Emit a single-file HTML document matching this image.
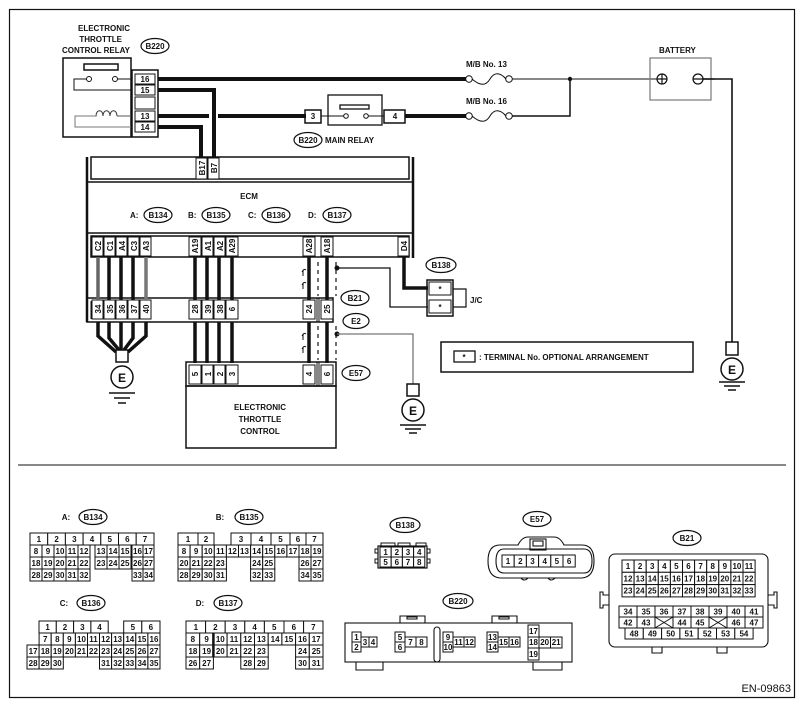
<!DOCTYPE html>
<html><head><meta charset="utf-8"><style>
html,body{margin:0;padding:0;background:#fff}
svg{display:block}
text{font-family:"Liberation Sans",Arial,sans-serif;font-weight:bold;fill:#111}
.l{font-size:8px}
.p{font-size:8px;text-anchor:middle}
.c{fill:#fff;stroke:#111;stroke-width:1}
</style></head><body>
<svg width="804" height="705" viewBox="0 0 804 705" xmlns="http://www.w3.org/2000/svg">
<rect x="9.5" y="9.5" width="785" height="688" fill="none" stroke="#111" stroke-width="1.2"/>
<line x1="18" y1="465" x2="786" y2="465" stroke="#111" stroke-width="1"/>

<!-- relay title -->
<text class="l" x="130" y="31" text-anchor="end">ELECTRONIC</text>
<text class="l" x="122" y="42" text-anchor="end">THROTTLE</text>
<text class="l" x="130" y="53" text-anchor="end">CONTROL RELAY</text>
<ellipse cx="155" cy="46" rx="14" ry="7.5" fill="#fff" stroke="#111" stroke-width="1.2"/>
<text class="p" x="155" y="49">B220</text>

<!-- relay box -->
<rect x="63" y="58" width="68" height="79" fill="none" stroke="#111" stroke-width="1.5"/>
<rect x="84" y="64" width="34" height="6" fill="none" stroke="#111" stroke-width="1.5"/>
<polyline points="87,79 74,79 74,90 131,90" fill="none" stroke="#111" stroke-width="1"/>
<line x1="117" y1="79" x2="131" y2="79" stroke="#111" stroke-width="1"/>
<circle cx="89" cy="79" r="2.5" fill="#fff" stroke="#111"/>
<circle cx="115" cy="79" r="2.5" fill="#fff" stroke="#111"/>
<polyline points="131,116 117,116 " fill="none" stroke="#555" stroke-width="1"/>
<path d="M117,116 C117,109 110,109 110,116 C110,109 103,109 103,116 C103,109 96,109 96,116 L91,116 M91,116" fill="none" stroke="#333" stroke-width="1"/>
<polyline points="96,116 75,116 75,127 131,127" fill="none" stroke="#777" stroke-width="1"/>
<rect x="132" y="70" width="26" height="67" fill="none" stroke="#111" stroke-width="1.5"/>
<rect x="135" y="74" width="20" height="10" class="c"/><text class="p" x="145" y="82">16</text>
<rect x="135" y="85" width="20" height="10" class="c"/><text class="p" x="145" y="93">15</text>
<rect x="135" y="97" width="20" height="12" class="c"/>
<rect x="135" y="111" width="20" height="10" class="c"/><text class="p" x="145" y="119">13</text>
<rect x="135" y="122" width="20" height="10" class="c"/><text class="p" x="145" y="130">14</text>

<!-- wires top -->
<g stroke="#111" stroke-width="4" fill="none">
<line x1="158" y1="79" x2="466" y2="79"/>
<polyline points="158,90 214,90 214,158"/>
<polyline points="158,127 201,127 201,158"/>
<line x1="158" y1="116" x2="209" y2="116"/>
<line x1="218" y1="116" x2="306" y2="116"/>
<line x1="405" y1="116" x2="466" y2="116"/>
</g>
<!-- main relay -->
<rect x="305" y="110" width="16" height="13" fill="none" stroke="#111" stroke-width="1.5"/><text class="p" x="313" y="119">3</text>
<rect x="328" y="95" width="54" height="30" fill="none" stroke="#111" stroke-width="1.3"/>
<rect x="340" y="105" width="29" height="4" fill="none" stroke="#111" stroke-width="1.3"/>
<line x1="321" y1="116" x2="344" y2="116" stroke="#111"/>
<line x1="368" y1="116" x2="384" y2="116" stroke="#111"/>
<circle cx="346" cy="116" r="2.3" fill="#fff" stroke="#111"/>
<circle cx="366" cy="116" r="2.3" fill="#fff" stroke="#111"/>
<rect x="384" y="110" width="21" height="13" fill="none" stroke="#111" stroke-width="1.5"/><text class="p" x="395" y="119">4</text>
<ellipse cx="308" cy="140" rx="14" ry="7.5" fill="#fff" stroke="#111" stroke-width="1.2"/>
<text class="p" x="308" y="143">B220</text>
<text class="l" x="325" y="143">MAIN RELAY</text>

<!-- fuses -->
<text class="l" x="466" y="67">M/B No. 13</text>
<text class="l" x="466" y="104">M/B No. 16</text>
<g fill="none" stroke="#111" stroke-width="1">
<circle cx="469" cy="79" r="3.3"/><circle cx="509" cy="79" r="3.3"/>
<path d="M472,79 C480,86 486,86 490,79 C494,72 500,72 506,79"/>
<circle cx="469" cy="116" r="3.3"/><circle cx="509" cy="116" r="3.3"/>
<path d="M472,116 C480,123 486,123 490,116 C494,109 500,109 506,116"/>
<line x1="512" y1="79" x2="659" y2="79"/>
</g>
<polyline points="512,116 570,116 570,79" fill="none" stroke="#111" stroke-width="1.5"/>
<circle cx="570" cy="79" r="2.2" fill="#111"/>
<!-- battery -->
<text class="l" x="659" y="53">BATTERY</text>
<rect x="650" y="58" width="61" height="42" fill="none" stroke="#777" stroke-width="1.2"/>
<circle cx="662" cy="79" r="5" fill="none" stroke="#111" stroke-width="1.2"/>
<path d="M657,79h10M662,74v10" stroke="#111" stroke-width="1.2"/>
<circle cx="698" cy="79" r="5" fill="none" stroke="#111" stroke-width="1.2"/>
<path d="M693,79h22" stroke="#111" stroke-width="1.2"/>
<polyline points="703,79 732,79 732,342" fill="none" stroke="#111" stroke-width="1.6"/>
<rect x="726" y="342" width="12" height="13" fill="#fff" stroke="#111" stroke-width="1.5"/>
<circle cx="732" cy="369" r="11" fill="#fff" stroke="#111" stroke-width="1.5"/>
<text x="732" y="374" style="font-size:12px" text-anchor="middle">E</text>
<path d="M719,382h26M724,386h16M728,390h8" stroke="#111" stroke-width="1.5"/>

<!-- ECM -->
<g fill="none" stroke="#111">
<line x1="87" y1="157" x2="87" y2="322" stroke-width="2.5"/>
<line x1="413" y1="157" x2="413" y2="258" stroke-width="2.5"/>
<rect x="91" y="157" width="318" height="22" stroke-width="1.5"/>
<line x1="87" y1="182" x2="413" y2="182" stroke-width="1.5"/>
<line x1="87" y1="233" x2="413" y2="233" stroke-width="1.5"/>
<rect x="91" y="236" width="318" height="21" stroke-width="1.5"/>
</g>
<rect x="196" y="158" width="11" height="21" class="c"/>
<rect x="208" y="158" width="11" height="21" class="c"/>
<text class="p" transform="translate(205,168) rotate(-90)">B17</text>
<text class="p" transform="translate(217,168) rotate(-90)">B7</text>
<text class="p" x="249" y="199">ECM</text>
<g>
<text class="l" x="130" y="218">A:</text><ellipse cx="158" cy="215" rx="14" ry="7.5" fill="#fff" stroke="#111" stroke-width="1.2"/><text class="p" x="158" y="218">B134</text>
<text class="l" x="188" y="218">B:</text><ellipse cx="216" cy="215" rx="14" ry="7.5" fill="#fff" stroke="#111" stroke-width="1.2"/><text class="p" x="216" y="218">B135</text>
<text class="l" x="248" y="218">C:</text><ellipse cx="276" cy="215" rx="14" ry="7.5" fill="#fff" stroke="#111" stroke-width="1.2"/><text class="p" x="276" y="218">B136</text>
<text class="l" x="308" y="218">D:</text><ellipse cx="337" cy="215" rx="14" ry="7.5" fill="#fff" stroke="#111" stroke-width="1.2"/><text class="p" x="337" y="218">B137</text>
</g>
<!-- ECM bottom pins -->
<g>
<rect x="92" y="237" width="11" height="19" class="c"/><text class="p" transform="translate(101,246) rotate(-90)">C2</text>
<rect x="104" y="237" width="11" height="19" class="c"/><text class="p" transform="translate(113,246) rotate(-90)">C1</text>
<rect x="116" y="237" width="11" height="19" class="c"/><text class="p" transform="translate(125,246) rotate(-90)">A4</text>
<rect x="128" y="237" width="11" height="19" class="c"/><text class="p" transform="translate(137,246) rotate(-90)">C3</text>
<rect x="140" y="237" width="11" height="19" class="c"/><text class="p" transform="translate(149,246) rotate(-90)">A3</text>
<rect x="189" y="237" width="12" height="19" class="c"/><text class="p" transform="translate(198,246) rotate(-90)">A19</text>
<rect x="202" y="237" width="11" height="19" class="c"/><text class="p" transform="translate(211,246) rotate(-90)">A1</text>
<rect x="214" y="237" width="11" height="19" class="c"/><text class="p" transform="translate(223,246) rotate(-90)">A2</text>
<rect x="226" y="237" width="12" height="19" class="c"/><text class="p" transform="translate(235,246) rotate(-90)">A29</text>
<rect x="303" y="237" width="12" height="19" class="c"/><text class="p" transform="translate(312,246) rotate(-90)">A28</text>
<rect x="321" y="237" width="12" height="19" class="c"/><text class="p" transform="translate(330,246) rotate(-90)">A18</text>
<rect x="398" y="237" width="11" height="19" class="c"/><text class="p" transform="translate(407,246) rotate(-90)">D4</text>
</g>
<!-- B21 strip -->
<g fill="none" stroke="#111">
<rect x="87" y="298" width="246" height="24" stroke-width="1.5"/>
<line x1="91" y1="301" x2="91" y2="319"/>
</g>
<g>
<rect x="92" y="300" width="11" height="19" class="c"/><text class="p" transform="translate(101,309) rotate(-90)">34</text>
<rect x="104" y="300" width="11" height="19" class="c"/><text class="p" transform="translate(113,309) rotate(-90)">35</text>
<rect x="116" y="300" width="11" height="19" class="c"/><text class="p" transform="translate(125,309) rotate(-90)">36</text>
<rect x="128" y="300" width="11" height="19" class="c"/><text class="p" transform="translate(137,309) rotate(-90)">37</text>
<rect x="140" y="300" width="11" height="19" class="c"/><text class="p" transform="translate(149,309) rotate(-90)">40</text>
<rect x="189" y="300" width="12" height="19" class="c"/><text class="p" transform="translate(198,309) rotate(-90)">28</text>
<rect x="202" y="300" width="11" height="19" class="c"/><text class="p" transform="translate(211,309) rotate(-90)">39</text>
<rect x="214" y="300" width="11" height="19" class="c"/><text class="p" transform="translate(223,309) rotate(-90)">38</text>
<rect x="226" y="300" width="12" height="19" class="c"/><text class="p" transform="translate(235,309) rotate(-90)">6</text>
<rect x="303" y="300" width="12" height="19" class="c"/><text class="p" transform="translate(312,309) rotate(-90)">24</text>
<rect x="321" y="300" width="12" height="19" class="c"/><text class="p" transform="translate(330,309) rotate(-90)">25</text>
</g>
<line x1="317" y1="298" x2="317" y2="322" stroke="#111"/><line x1="319" y1="298" x2="319" y2="322" stroke="#111"/>
<ellipse cx="355" cy="298" rx="14" ry="7.5" fill="#fff" stroke="#111" stroke-width="1.2"/><text class="p" x="355" y="301">B21</text>
<ellipse cx="356" cy="321" rx="13" ry="7.5" fill="#fff" stroke="#111" stroke-width="1.2"/><text class="p" x="356" y="324">E2</text>

<!-- vertical wires -->
<g stroke="#111" stroke-width="3.5">
<line x1="98" y1="257" x2="98" y2="300" stroke="#666"/><line x1="109" y1="257" x2="109" y2="300"/><line x1="121" y1="257" x2="121" y2="300"/><line x1="133" y1="257" x2="133" y2="300"/><line x1="146" y1="257" x2="146" y2="300" stroke="#777"/>
<line x1="195" y1="257" x2="195" y2="300"/><line x1="207" y1="257" x2="207" y2="300"/><line x1="219" y1="257" x2="219" y2="300"/><line x1="232" y1="257" x2="232" y2="300"/>
<line x1="309" y1="257" x2="309" y2="300"/><line x1="327" y1="257" x2="327" y2="300"/>
<line x1="195" y1="322" x2="195" y2="363"/><line x1="207" y1="322" x2="207" y2="363"/><line x1="219" y1="322" x2="219" y2="363"/><line x1="232" y1="322" x2="232" y2="363"/>
<line x1="309" y1="322" x2="309" y2="363"/><line x1="327" y1="322" x2="327" y2="363"/>
</g>
<g stroke="#111" stroke-width="3.5" fill="none">
<polyline points="98,322 98,336 116,352"/><polyline points="109,322 109,338 119,350"/><line x1="121" y1="322" x2="121" y2="350"/><polyline points="133,322 133,338 124,350"/><polyline points="146,322 146,336 128,352"/>
</g>
<rect x="116" y="350" width="12" height="12" fill="#fff" stroke="#111" stroke-width="1.5"/>
<circle cx="122" cy="377" r="11" fill="#fff" stroke="#111" stroke-width="1.5"/>
<text x="122" y="382" style="font-size:12px" text-anchor="middle">E</text>
<path d="M109,393h26M114,398h16M118,403h8" stroke="#111" stroke-width="1.5"/>

<!-- shields -->
<g stroke="#111" stroke-width="1.2" stroke-dasharray="4,4" fill="none">
<line x1="318" y1="262" x2="318" y2="296"/><line x1="336" y1="262" x2="336" y2="296"/>
<line x1="318" y1="326" x2="318" y2="360"/><line x1="336" y1="326" x2="336" y2="360"/>
</g>
<g stroke="#111" stroke-width="1" fill="none">
<path d="M302,272 q2,-4 4,-2 M303,270 v6 M302,285 q2,-4 4,-2 M303,283 v6"/>
<path d="M302,336 q2,-4 4,-2 M303,334 v6 M302,349 q2,-4 4,-2 M303,347 v6"/>
</g>
<circle cx="337" cy="268" r="2.5" fill="#111"/>
<polyline points="337,268 390,268 390,307 428,307" fill="none" stroke="#111" stroke-width="1.3"/>
<circle cx="337" cy="334" r="2.5" fill="#111"/>
<polyline points="337,334 413,334 413,384" fill="none" stroke="#777" stroke-width="1.3"/>
<rect x="407" y="384" width="12" height="12" fill="#fff" stroke="#111" stroke-width="1.5"/>
<circle cx="413" cy="410" r="11" fill="#fff" stroke="#111" stroke-width="1.5"/>
<text x="413" y="415" style="font-size:12px" text-anchor="middle">E</text>
<path d="M400,425h26M405,429h16M409,433h8" stroke="#111" stroke-width="1.5"/>

<!-- D4 to J/C -->
<polyline points="404,257 404,288 428,288" fill="none" stroke="#111" stroke-width="3.5"/>
<ellipse cx="441" cy="265" rx="15" ry="7.5" fill="#fff" stroke="#111" stroke-width="1.2"/><text class="p" x="441" y="268">B138</text>
<rect x="427" y="280" width="26" height="36" fill="none" stroke="#111" stroke-width="1.5"/>
<rect x="429" y="282" width="22" height="13" class="c"/><text class="p" x="440" y="292">*</text>
<rect x="429" y="300" width="22" height="13" class="c"/><text class="p" x="440" y="310">*</text>
<polyline points="453,289 466,289 466,307 453,307" fill="none" stroke="#111" stroke-width="1.2"/>
<text class="l" x="470" y="303">J/C</text>

<!-- E57 -->
<rect x="186" y="362" width="150" height="24" fill="none" stroke="#111" stroke-width="1.5"/>
<rect x="186" y="386" width="150" height="62" fill="none" stroke="#111" stroke-width="1.5"/>
<g>
<rect x="189" y="365" width="12" height="19" class="c"/><text class="p" transform="translate(198,374) rotate(-90)">5</text>
<rect x="202" y="365" width="11" height="19" class="c"/><text class="p" transform="translate(211,374) rotate(-90)">1</text>
<rect x="214" y="365" width="11" height="19" class="c"/><text class="p" transform="translate(223,374) rotate(-90)">2</text>
<rect x="226" y="365" width="12" height="19" class="c"/><text class="p" transform="translate(235,374) rotate(-90)">3</text>
<rect x="303" y="365" width="12" height="19" class="c"/><text class="p" transform="translate(312,374) rotate(-90)">4</text>
<rect x="321" y="365" width="12" height="19" class="c"/><text class="p" transform="translate(330,374) rotate(-90)">6</text>
</g>
<line x1="317" y1="362" x2="317" y2="386" stroke="#111"/><line x1="319" y1="362" x2="319" y2="386" stroke="#111"/>
<ellipse cx="356" cy="373" rx="14" ry="7.5" fill="#fff" stroke="#111" stroke-width="1.2"/><text class="p" x="356" y="376">E57</text>
<text class="p" x="260" y="410">ELECTRONIC</text>
<text class="p" x="260" y="422">THROTTLE</text>
<text class="p" x="260" y="434">CONTROL</text>

<!-- legend -->
<rect x="441" y="342" width="252" height="30" fill="none" stroke="#111" stroke-width="1.5"/>
<rect x="454" y="351" width="21" height="11" fill="none" stroke="#111" stroke-width="1.3"/><text class="p" x="464" y="360">*</text>
<text class="l" x="479" y="360">: TERMINAL No. OPTIONAL ARRANGEMENT</text>

<!-- ===== Bottom connectors ===== -->
<g class="p">
<text class="l" x="66" y="520">A:</text><ellipse cx="93" cy="517" rx="14" ry="7.5" fill="#fff" stroke="#111" stroke-width="1.2"/><text class="p" x="93" y="520">B134</text>
<text class="l" x="220" y="520">B:</text><ellipse cx="249" cy="517" rx="14" ry="7.5" fill="#fff" stroke="#111" stroke-width="1.2"/><text class="p" x="249" y="520">B135</text>
<text class="l" x="64" y="606">C:</text><ellipse cx="91" cy="603" rx="14" ry="7.5" fill="#fff" stroke="#111" stroke-width="1.2"/><text class="p" x="91" y="606">B136</text>
<text class="l" x="200" y="606">D:</text><ellipse cx="228" cy="603" rx="14" ry="7.5" fill="#fff" stroke="#111" stroke-width="1.2"/><text class="p" x="228" y="606">B137</text>
</g>

<!-- A B134 -->
<g>
<rect x="30" y="533" width="17.7" height="12" class="c"/><text class="p" x="38.9" y="542">1</text>
<rect x="47.7" y="533" width="17.7" height="12" class="c"/><text class="p" x="56.6" y="542">2</text>
<rect x="65.4" y="533" width="17.7" height="12" class="c"/><text class="p" x="74.3" y="542">3</text>
<rect x="83.1" y="533" width="17.7" height="12" class="c"/><text class="p" x="92" y="542">4</text>
<rect x="100.8" y="533" width="17.7" height="12" class="c"/><text class="p" x="109.7" y="542">5</text>
<rect x="118.5" y="533" width="17.7" height="12" class="c"/><text class="p" x="127.4" y="542">6</text>
<rect x="136.2" y="533" width="17.8" height="12" class="c"/><text class="p" x="145" y="542">7</text>

<rect x="30" y="545" width="12" height="12" class="c"/><text class="p" x="36" y="554">8</text>
<rect x="42" y="545" width="12" height="12" class="c"/><text class="p" x="48" y="554">9</text>
<rect x="54" y="545" width="12" height="12" class="c"/><text class="p" x="60" y="554">10</text>
<rect x="66" y="545" width="12" height="12" class="c"/><text class="p" x="72" y="554">11</text>
<rect x="78" y="545" width="12" height="12" class="c"/><text class="p" x="84" y="554">12</text>
<rect x="95" y="545" width="12" height="12" class="c"/><text class="p" x="101" y="554">13</text>
<rect x="107" y="545" width="12" height="12" class="c"/><text class="p" x="113" y="554">14</text>
<rect x="119" y="545" width="12" height="12" class="c"/><text class="p" x="125" y="554">15</text>
<rect x="132" y="545" width="11" height="12" class="c"/><text class="p" x="137.5" y="554">16</text>
<rect x="143" y="545" width="11" height="12" class="c"/><text class="p" x="148.5" y="554">17</text>

<rect x="30" y="557" width="12" height="12" class="c"/><text class="p" x="36" y="566">18</text>
<rect x="42" y="557" width="12" height="12" class="c"/><text class="p" x="48" y="566">19</text>
<rect x="54" y="557" width="12" height="12" class="c"/><text class="p" x="60" y="566">20</text>
<rect x="66" y="557" width="12" height="12" class="c"/><text class="p" x="72" y="566">21</text>
<rect x="78" y="557" width="12" height="12" class="c"/><text class="p" x="84" y="566">22</text>
<rect x="95" y="557" width="12" height="12" class="c"/><text class="p" x="101" y="566">23</text>
<rect x="107" y="557" width="12" height="12" class="c"/><text class="p" x="113" y="566">24</text>
<rect x="119" y="557" width="12" height="12" class="c"/><text class="p" x="125" y="566">25</text>
<rect x="132" y="557" width="11" height="12" class="c"/><text class="p" x="137.5" y="566">26</text>
<rect x="143" y="557" width="11" height="12" class="c"/><text class="p" x="148.5" y="566">27</text>

<rect x="30" y="569" width="12" height="12" class="c"/><text class="p" x="36" y="578">28</text>
<rect x="42" y="569" width="12" height="12" class="c"/><text class="p" x="48" y="578">29</text>
<rect x="54" y="569" width="12" height="12" class="c"/><text class="p" x="60" y="578">30</text>
<rect x="66" y="569" width="12" height="12" class="c"/><text class="p" x="72" y="578">31</text>
<rect x="78" y="569" width="12" height="12" class="c"/><text class="p" x="84" y="578">32</text>
<rect x="132" y="569" width="11" height="12" class="c"/><text class="p" x="137.5" y="578">33</text>
<rect x="143" y="569" width="11" height="12" class="c"/><text class="p" x="148.5" y="578">34</text>
<line x1="90" y1="545" x2="95" y2="545" stroke="#111"/><line x1="131" y1="545" x2="132" y2="545" stroke="#111"/>
</g>

<!-- B B135 -->
<g>
<rect x="178" y="533" width="20" height="12" class="c"/><text class="p" x="188" y="542">1</text>
<rect x="198" y="533" width="16" height="12" class="c"/><text class="p" x="206" y="542">2</text>
<rect x="231" y="533" width="20" height="12" class="c"/><text class="p" x="241" y="542">3</text>
<rect x="251" y="533" width="20" height="12" class="c"/><text class="p" x="261" y="542">4</text>
<rect x="271" y="533" width="19" height="12" class="c"/><text class="p" x="280.5" y="542">5</text>
<rect x="290" y="533" width="16" height="12" class="c"/><text class="p" x="298" y="542">6</text>
<rect x="306" y="533" width="17" height="12" class="c"/><text class="p" x="314.5" y="542">7</text>

<rect x="178" y="545" width="12.1" height="12" class="c"/><text class="p" x="184" y="554">8</text>
<rect x="190.1" y="545" width="12.1" height="12" class="c"/><text class="p" x="196.1" y="554">9</text>
<rect x="202.2" y="545" width="12.1" height="12" class="c"/><text class="p" x="208.2" y="554">10</text>
<rect x="214.3" y="545" width="12.1" height="12" class="c"/><text class="p" x="220.3" y="554">11</text>
<rect x="226.4" y="545" width="12.1" height="12" class="c"/><text class="p" x="232.4" y="554">12</text>
<rect x="238.5" y="545" width="12.1" height="12" class="c"/><text class="p" x="244.5" y="554">13</text>
<rect x="250.6" y="545" width="12.1" height="12" class="c"/><text class="p" x="256.6" y="554">14</text>
<rect x="262.7" y="545" width="12.1" height="12" class="c"/><text class="p" x="268.7" y="554">15</text>
<rect x="274.8" y="545" width="12.1" height="12" class="c"/><text class="p" x="280.8" y="554">16</text>
<rect x="286.9" y="545" width="12.1" height="12" class="c"/><text class="p" x="292.9" y="554">17</text>
<rect x="299" y="545" width="12" height="12" class="c"/><text class="p" x="305" y="554">18</text>
<rect x="311" y="545" width="12" height="12" class="c"/><text class="p" x="317" y="554">19</text>

<rect x="178" y="557" width="12.1" height="12" class="c"/><text class="p" x="184" y="566">20</text>
<rect x="190.1" y="557" width="12.1" height="12" class="c"/><text class="p" x="196.1" y="566">21</text>
<rect x="202.2" y="557" width="12.1" height="12" class="c"/><text class="p" x="208.2" y="566">22</text>
<rect x="214.3" y="557" width="12.1" height="12" class="c"/><text class="p" x="220.3" y="566">23</text>
<rect x="250.6" y="557" width="12.1" height="12" class="c"/><text class="p" x="256.6" y="566">24</text>
<rect x="262.7" y="557" width="12.1" height="12" class="c"/><text class="p" x="268.7" y="566">25</text>
<rect x="299" y="557" width="12" height="12" class="c"/><text class="p" x="305" y="566">26</text>
<rect x="311" y="557" width="12" height="12" class="c"/><text class="p" x="317" y="566">27</text>

<rect x="178" y="569" width="12.1" height="12" class="c"/><text class="p" x="184" y="578">28</text>
<rect x="190.1" y="569" width="12.1" height="12" class="c"/><text class="p" x="196.1" y="578">29</text>
<rect x="202.2" y="569" width="12.1" height="12" class="c"/><text class="p" x="208.2" y="578">30</text>
<rect x="214.3" y="569" width="12.1" height="12" class="c"/><text class="p" x="220.3" y="578">31</text>
<rect x="250.6" y="569" width="12.1" height="12" class="c"/><text class="p" x="256.6" y="578">32</text>
<rect x="262.7" y="569" width="12.1" height="12" class="c"/><text class="p" x="268.7" y="578">33</text>
<rect x="299" y="569" width="12" height="12" class="c"/><text class="p" x="305" y="578">34</text>
<rect x="311" y="569" width="12" height="12" class="c"/><text class="p" x="317" y="578">35</text>
</g>

<!-- C B136 -->
<g>
<rect x="39" y="621" width="17.3" height="12" class="c"/><text class="p" x="47.6" y="630">1</text>
<rect x="56.3" y="621" width="17.3" height="12" class="c"/><text class="p" x="65" y="630">2</text>
<rect x="73.6" y="621" width="17.3" height="12" class="c"/><text class="p" x="82.3" y="630">3</text>
<rect x="90.9" y="621" width="17.3" height="12" class="c"/><text class="p" x="99.5" y="630">4</text>
<rect x="123.7" y="621" width="18.1" height="12" class="c"/><text class="p" x="132.8" y="630">5</text>
<rect x="141.8" y="621" width="18.2" height="12" class="c"/><text class="p" x="150.9" y="630">6</text>

<rect x="39.1" y="633" width="12.1" height="12" class="c"/><text class="p" x="45.2" y="642">7</text>
<rect x="51.2" y="633" width="12.1" height="12" class="c"/><text class="p" x="57.3" y="642">8</text>
<rect x="63.3" y="633" width="12.1" height="12" class="c"/><text class="p" x="69.4" y="642">9</text>
<rect x="75.4" y="633" width="12.1" height="12" class="c"/><text class="p" x="81.5" y="642">10</text>
<rect x="87.5" y="633" width="12" height="12" class="c"/><text class="p" x="93.5" y="642">11</text>
<rect x="99.5" y="633" width="12.1" height="12" class="c"/><text class="p" x="105.6" y="642">12</text>
<rect x="111.6" y="633" width="12.1" height="12" class="c"/><text class="p" x="117.7" y="642">13</text>
<rect x="123.7" y="633" width="12.1" height="12" class="c"/><text class="p" x="129.8" y="642">14</text>
<rect x="135.8" y="633" width="12.1" height="12" class="c"/><text class="p" x="141.9" y="642">15</text>
<rect x="147.9" y="633" width="12.1" height="12" class="c"/><text class="p" x="154" y="642">16</text>

<rect x="27" y="645" width="12.1" height="12" class="c"/><text class="p" x="33.1" y="654">17</text>
<rect x="39.1" y="645" width="12.1" height="12" class="c"/><text class="p" x="45.2" y="654">18</text>
<rect x="51.2" y="645" width="12.1" height="12" class="c"/><text class="p" x="57.3" y="654">19</text>
<rect x="63.3" y="645" width="12.1" height="12" class="c"/><text class="p" x="69.4" y="654">20</text>
<rect x="75.4" y="645" width="12.1" height="12" class="c"/><text class="p" x="81.5" y="654">21</text>
<rect x="87.5" y="645" width="12" height="12" class="c"/><text class="p" x="93.5" y="654">22</text>
<rect x="99.5" y="645" width="12.1" height="12" class="c"/><text class="p" x="105.6" y="654">23</text>
<rect x="111.6" y="645" width="12.1" height="12" class="c"/><text class="p" x="117.7" y="654">24</text>
<rect x="123.7" y="645" width="12.1" height="12" class="c"/><text class="p" x="129.8" y="654">25</text>
<rect x="135.8" y="645" width="12.1" height="12" class="c"/><text class="p" x="141.9" y="654">26</text>
<rect x="147.9" y="645" width="12.1" height="12" class="c"/><text class="p" x="154" y="654">27</text>

<rect x="27" y="657" width="12.1" height="12" class="c"/><text class="p" x="33.1" y="666">28</text>
<rect x="39.1" y="657" width="12.1" height="12" class="c"/><text class="p" x="45.2" y="666">29</text>
<rect x="51.2" y="657" width="12.1" height="12" class="c"/><text class="p" x="57.3" y="666">30</text>
<rect x="99.5" y="657" width="12.1" height="12" class="c"/><text class="p" x="105.6" y="666">31</text>
<rect x="111.6" y="657" width="12.1" height="12" class="c"/><text class="p" x="117.7" y="666">32</text>
<rect x="123.7" y="657" width="12.1" height="12" class="c"/><text class="p" x="129.8" y="666">33</text>
<rect x="135.8" y="657" width="12.1" height="12" class="c"/><text class="p" x="141.9" y="666">34</text>
<rect x="147.9" y="657" width="12.1" height="12" class="c"/><text class="p" x="154" y="666">35</text>
</g>

<!-- D B137 -->
<g>
<rect x="186" y="621" width="19.6" height="12" class="c"/><text class="p" x="195.8" y="630">1</text>
<rect x="205.6" y="621" width="19.6" height="12" class="c"/><text class="p" x="215.4" y="630">2</text>
<rect x="225.2" y="621" width="19.6" height="12" class="c"/><text class="p" x="235" y="630">3</text>
<rect x="244.8" y="621" width="19.6" height="12" class="c"/><text class="p" x="254.6" y="630">4</text>
<rect x="264.4" y="621" width="19.6" height="12" class="c"/><text class="p" x="274.2" y="630">5</text>
<rect x="284" y="621" width="19.6" height="12" class="c"/><text class="p" x="293.8" y="630">6</text>
<rect x="303.6" y="621" width="19.4" height="12" class="c"/><text class="p" x="313.3" y="630">7</text>

<rect x="186" y="633" width="13.7" height="12" class="c"/><text class="p" x="192.9" y="642">8</text>
<rect x="199.7" y="633" width="13.7" height="12" class="c"/><text class="p" x="206.6" y="642">9</text>
<rect x="213.4" y="633" width="13.7" height="12" class="c"/><text class="p" x="220.3" y="642">10</text>
<rect x="227.1" y="633" width="13.7" height="12" class="c"/><text class="p" x="234" y="642">11</text>
<rect x="240.8" y="633" width="13.7" height="12" class="c"/><text class="p" x="247.7" y="642">12</text>
<rect x="254.5" y="633" width="13.7" height="12" class="c"/><text class="p" x="261.4" y="642">13</text>
<rect x="268.2" y="633" width="13.7" height="12" class="c"/><text class="p" x="275.1" y="642">14</text>
<rect x="281.9" y="633" width="13.7" height="12" class="c"/><text class="p" x="288.8" y="642">15</text>
<rect x="295.6" y="633" width="13.7" height="12" class="c"/><text class="p" x="302.5" y="642">16</text>
<rect x="309.3" y="633" width="13.7" height="12" class="c"/><text class="p" x="316.2" y="642">17</text>

<rect x="186" y="645" width="13.7" height="12" class="c"/><text class="p" x="192.9" y="654">18</text>
<rect x="199.7" y="645" width="13.7" height="12" class="c"/><text class="p" x="206.6" y="654">19</text>
<rect x="213.4" y="645" width="13.7" height="12" class="c"/><text class="p" x="220.3" y="654">20</text>
<rect x="227.1" y="645" width="13.7" height="12" class="c"/><text class="p" x="234" y="654">21</text>
<rect x="240.8" y="645" width="13.7" height="12" class="c"/><text class="p" x="247.7" y="654">22</text>
<rect x="254.5" y="645" width="13.7" height="12" class="c"/><text class="p" x="261.4" y="654">23</text>
<rect x="295.6" y="645" width="13.7" height="12" class="c"/><text class="p" x="302.5" y="654">24</text>
<rect x="309.3" y="645" width="13.7" height="12" class="c"/><text class="p" x="316.2" y="654">25</text>

<rect x="186" y="657" width="13.7" height="12" class="c"/><text class="p" x="192.9" y="666">26</text>
<rect x="199.7" y="657" width="13.7" height="12" class="c"/><text class="p" x="206.6" y="666">27</text>
<rect x="240.8" y="657" width="13.7" height="12" class="c"/><text class="p" x="247.7" y="666">28</text>
<rect x="254.5" y="657" width="13.7" height="12" class="c"/><text class="p" x="261.4" y="666">29</text>
<rect x="295.6" y="657" width="13.7" height="12" class="c"/><text class="p" x="302.5" y="666">30</text>
<rect x="309.3" y="657" width="13.7" height="12" class="c"/><text class="p" x="316.2" y="666">31</text>
<line x1="213.4" y1="633" x2="213.4" y2="657" stroke="#111" stroke-width="2.5"/>
</g>

<!-- B138 -->
<ellipse cx="405" cy="525" rx="15" ry="7.5" fill="#fff" stroke="#111" stroke-width="1.2"/><text class="p" x="405" y="528">B138</text>
<g fill="none" stroke="#111" stroke-width="1">
<path d="M381,546 v-3 h14 v3 M398,546 v-3 h12 v3 M416,546 v-3 h10 v3"/>
<path d="M378,549 h-3 v4 h3 M378,559 h-3 v4 h3 M427,549 h3 v4 h-3 M427,559 h3 v4 h-3"/>
<rect x="378" y="546" width="49" height="22" stroke-width="1.2"/>
</g>
<g>
<rect x="380" y="547" width="11.2" height="10" class="c"/><text class="p" x="385.6" y="555">1</text>
<rect x="391.2" y="547" width="11.2" height="10" class="c"/><text class="p" x="396.8" y="555">2</text>
<rect x="402.4" y="547" width="11.2" height="10" class="c"/><text class="p" x="408" y="555">3</text>
<rect x="413.6" y="547" width="11.2" height="10" class="c"/><text class="p" x="419.2" y="555">4</text>
<rect x="380" y="557" width="11.2" height="10" class="c"/><text class="p" x="385.6" y="565">5</text>
<rect x="391.2" y="557" width="11.2" height="10" class="c"/><text class="p" x="396.8" y="565">6</text>
<rect x="402.4" y="557" width="11.2" height="10" class="c"/><text class="p" x="408" y="565">7</text>
<rect x="413.6" y="557" width="11.2" height="10" class="c"/><text class="p" x="419.2" y="565">8</text>
</g>

<!-- E57 connector -->
<ellipse cx="537" cy="519" rx="14" ry="7.5" fill="#fff" stroke="#111" stroke-width="1.2"/><text class="p" x="537" y="522">E57</text>
<g fill="none" stroke="#111" stroke-width="1.1">
<path d="M500,545 h18 q4,-8 10,-8 h26 q6,0 10,8 h18 q12,0 12,16 q0,16 -12,17 h-82 q-12,-1 -12,-17 q0,-16 12,-16 z"/>
<path d="M504,549 h80 q8,0 8,12 q0,12 -8,12 h-80 q-8,0 -8,-12 q0,-12 8,-12 z"/>
<rect x="530" y="539" width="16" height="11"/>
<rect x="533" y="541" width="10" height="5"/>
<path d="M521,578 q3,4 7,0 M548,578 q3,4 7,0"/>
</g>
<g>
<rect x="502" y="555" width="12.2" height="12" class="c"/><text class="p" x="508" y="564">1</text>
<rect x="514.2" y="555" width="12.2" height="12" class="c"/><text class="p" x="520.3" y="564">2</text>
<rect x="526.4" y="555" width="12.2" height="12" class="c"/><text class="p" x="532.5" y="564">3</text>
<rect x="538.6" y="555" width="12.2" height="12" class="c"/><text class="p" x="544.7" y="564">4</text>
<rect x="550.8" y="555" width="12.2" height="12" class="c"/><text class="p" x="556.9" y="564">5</text>
<rect x="563" y="555" width="12.2" height="12" class="c"/><text class="p" x="569.1" y="564">6</text>
</g>

<!-- B220 connector -->
<ellipse cx="458" cy="601" rx="15" ry="7.5" fill="#fff" stroke="#111" stroke-width="1.2"/><text class="p" x="458" y="604">B220</text>
<g fill="none" stroke="#111" stroke-width="1.1">
<rect x="345" y="623" width="227" height="39"/>
<path d="M400,623 v-7 h25 v7 M407,619 h10 v-2 h-10z M492,623 v-7 h25 v7 M499,619 h10 v-2 h-10z"/>
<path d="M356,662 v8 h27 v-8 M533,662 v8 h29 v-8"/>
<rect x="434" y="627" width="6" height="35" rx="3"/>
</g>
<g>
<rect x="352" y="632" width="9" height="10" class="c"/><text class="p" x="356.5" y="640">1</text>
<rect x="352" y="642" width="9" height="10" class="c"/><text class="p" x="356.5" y="650">2</text>
<rect x="361" y="637" width="8" height="10" class="c"/><text class="p" x="365" y="645">3</text>
<rect x="369" y="637" width="8" height="10" class="c"/><text class="p" x="373" y="645">4</text>
<rect x="395" y="632" width="10" height="10" class="c"/><text class="p" x="400" y="640">5</text>
<rect x="395" y="642" width="10" height="10" class="c"/><text class="p" x="400" y="650">6</text>
<rect x="405" y="637" width="11" height="10" class="c"/><text class="p" x="410.5" y="645">7</text>
<rect x="416" y="637" width="11" height="10" class="c"/><text class="p" x="421.5" y="645">8</text>
<rect x="443" y="632" width="10" height="10" class="c"/><text class="p" x="448" y="640">9</text>
<rect x="443" y="642" width="10" height="10" class="c"/><text class="p" x="448" y="650">10</text>
<rect x="453" y="637" width="11" height="10" class="c"/><text class="p" x="458.5" y="645">11</text>
<rect x="464" y="637" width="11" height="10" class="c"/><text class="p" x="469.5" y="645">12</text>
<rect x="487" y="632" width="11" height="10" class="c"/><text class="p" x="492.5" y="640">13</text>
<rect x="487" y="642" width="11" height="10" class="c"/><text class="p" x="492.5" y="650">14</text>
<rect x="498" y="637" width="11" height="10" class="c"/><text class="p" x="503.5" y="645">15</text>
<rect x="509" y="637" width="11" height="10" class="c"/><text class="p" x="514.5" y="645">16</text>
<rect x="528" y="625" width="11" height="12" class="c"/><text class="p" x="533.5" y="634">17</text>
<rect x="528" y="637" width="11" height="11" class="c"/><text class="p" x="533.5" y="645">18</text>
<rect x="528" y="648" width="11" height="12" class="c"/><text class="p" x="533.5" y="657">19</text>
<rect x="539" y="637" width="11.5" height="11" class="c"/><text class="p" x="544.7" y="645">20</text>
<rect x="550.5" y="637" width="11.5" height="11" class="c"/><text class="p" x="556.2" y="645">21</text>
</g>

<!-- B21 connector -->
<ellipse cx="687" cy="538" rx="14" ry="7.5" fill="#fff" stroke="#111" stroke-width="1.2"/><text class="p" x="687" y="541">B21</text>
<g fill="none" stroke="#111" stroke-width="1.1">
<rect x="609" y="554" width="159" height="93" rx="6"/>
<path d="M609,595 h-6 v-3 h-3 v16 h3 v-3 h6 M768,595 h6 v-3 h3 v16 h-3 v-3 h-6"/>
<path d="M652,647 v6 h10 v-6 M717,647 v6 h10 v-6"/>
</g>
<g>
<rect x="622" y="560" width="12.1" height="12.3" class="c"/><text class="p" x="628" y="569">1</text>
<rect x="634.1" y="560" width="12.1" height="12.3" class="c"/><text class="p" x="640.1" y="569">2</text>
<rect x="646.2" y="560" width="12.1" height="12.3" class="c"/><text class="p" x="652.2" y="569">3</text>
<rect x="658.3" y="560" width="12.1" height="12.3" class="c"/><text class="p" x="664.3" y="569">4</text>
<rect x="670.4" y="560" width="12.1" height="12.3" class="c"/><text class="p" x="676.4" y="569">5</text>
<rect x="682.5" y="560" width="12.1" height="12.3" class="c"/><text class="p" x="688.5" y="569">6</text>
<rect x="694.6" y="560" width="12.1" height="12.3" class="c"/><text class="p" x="700.6" y="569">7</text>
<rect x="706.7" y="560" width="12.1" height="12.3" class="c"/><text class="p" x="712.7" y="569">8</text>
<rect x="718.8" y="560" width="12.1" height="12.3" class="c"/><text class="p" x="724.8" y="569">9</text>
<rect x="730.9" y="560" width="12.1" height="12.3" class="c"/><text class="p" x="736.9" y="569">10</text>
<rect x="743" y="560" width="12.1" height="12.3" class="c"/><text class="p" x="749" y="569">11</text>
<rect x="622" y="572.3" width="12.1" height="12.3" class="c"/><text class="p" x="628" y="581.3">12</text>
<rect x="634.1" y="572.3" width="12.1" height="12.3" class="c"/><text class="p" x="640.1" y="581.3">13</text>
<rect x="646.2" y="572.3" width="12.1" height="12.3" class="c"/><text class="p" x="652.2" y="581.3">14</text>
<rect x="658.3" y="572.3" width="12.1" height="12.3" class="c"/><text class="p" x="664.3" y="581.3">15</text>
<rect x="670.4" y="572.3" width="12.1" height="12.3" class="c"/><text class="p" x="676.4" y="581.3">16</text>
<rect x="682.5" y="572.3" width="12.1" height="12.3" class="c"/><text class="p" x="688.5" y="581.3">17</text>
<rect x="694.6" y="572.3" width="12.1" height="12.3" class="c"/><text class="p" x="700.6" y="581.3">18</text>
<rect x="706.7" y="572.3" width="12.1" height="12.3" class="c"/><text class="p" x="712.7" y="581.3">19</text>
<rect x="718.8" y="572.3" width="12.1" height="12.3" class="c"/><text class="p" x="724.8" y="581.3">20</text>
<rect x="730.9" y="572.3" width="12.1" height="12.3" class="c"/><text class="p" x="736.9" y="581.3">21</text>
<rect x="743" y="572.3" width="12.1" height="12.3" class="c"/><text class="p" x="749" y="581.3">22</text>
<rect x="622" y="584.6" width="12.1" height="12.3" class="c"/><text class="p" x="628" y="593.6">23</text>
<rect x="634.1" y="584.6" width="12.1" height="12.3" class="c"/><text class="p" x="640.1" y="593.6">24</text>
<rect x="646.2" y="584.6" width="12.1" height="12.3" class="c"/><text class="p" x="652.2" y="593.6">25</text>
<rect x="658.3" y="584.6" width="12.1" height="12.3" class="c"/><text class="p" x="664.3" y="593.6">26</text>
<rect x="670.4" y="584.6" width="12.1" height="12.3" class="c"/><text class="p" x="676.4" y="593.6">27</text>
<rect x="682.5" y="584.6" width="12.1" height="12.3" class="c"/><text class="p" x="688.5" y="593.6">28</text>
<rect x="694.6" y="584.6" width="12.1" height="12.3" class="c"/><text class="p" x="700.6" y="593.6">29</text>
<rect x="706.7" y="584.6" width="12.1" height="12.3" class="c"/><text class="p" x="712.7" y="593.6">30</text>
<rect x="718.8" y="584.6" width="12.1" height="12.3" class="c"/><text class="p" x="724.8" y="593.6">31</text>
<rect x="730.9" y="584.6" width="12.1" height="12.3" class="c"/><text class="p" x="736.9" y="593.6">32</text>
<rect x="743" y="584.6" width="12.1" height="12.3" class="c"/><text class="p" x="749" y="593.6">33</text>

<rect x="619" y="606" width="18" height="11" class="c"/><text class="p" x="628" y="614.5">34</text>
<rect x="637" y="606" width="18" height="11" class="c"/><text class="p" x="646" y="614.5">35</text>
<rect x="655" y="606" width="18" height="11" class="c"/><text class="p" x="664" y="614.5">36</text>
<rect x="673" y="606" width="18" height="11" class="c"/><text class="p" x="682" y="614.5">37</text>
<rect x="691" y="606" width="18" height="11" class="c"/><text class="p" x="700" y="614.5">38</text>
<rect x="709" y="606" width="18" height="11" class="c"/><text class="p" x="718" y="614.5">39</text>
<rect x="727" y="606" width="18" height="11" class="c"/><text class="p" x="736" y="614.5">40</text>
<rect x="745" y="606" width="18" height="11" class="c"/><text class="p" x="754" y="614.5">41</text>
<rect x="619" y="617" width="18" height="11" class="c"/><text class="p" x="628" y="625.5">42</text>
<rect x="637" y="617" width="18" height="11" class="c"/><text class="p" x="646" y="625.5">43</text>
<rect x="655" y="617" width="18" height="11" class="c"/><path d="M655,617 L673,628 M673,617 L655,628" stroke="#111"/>
<rect x="673" y="617" width="18" height="11" class="c"/><text class="p" x="682" y="625.5">44</text>
<rect x="691" y="617" width="18" height="11" class="c"/><text class="p" x="700" y="625.5">45</text>
<rect x="709" y="617" width="18" height="11" class="c"/><path d="M709,617 L727,628 M727,617 L709,628" stroke="#111"/>
<rect x="727" y="617" width="18" height="11" class="c"/><text class="p" x="736" y="625.5">46</text>
<rect x="745" y="617" width="18" height="11" class="c"/><text class="p" x="754" y="625.5">47</text>
<rect x="625" y="628" width="18.3" height="11" class="c"/><text class="p" x="634.1" y="636.5">48</text>
<rect x="643.3" y="628" width="18.3" height="11" class="c"/><text class="p" x="652.4" y="636.5">49</text>
<rect x="661.6" y="628" width="18.3" height="11" class="c"/><text class="p" x="670.7" y="636.5">50</text>
<rect x="679.9" y="628" width="18.3" height="11" class="c"/><text class="p" x="689" y="636.5">51</text>
<rect x="698.2" y="628" width="18.3" height="11" class="c"/><text class="p" x="707.3" y="636.5">52</text>
<rect x="716.5" y="628" width="18.3" height="11" class="c"/><text class="p" x="725.6" y="636.5">53</text>
<rect x="734.8" y="628" width="18.3" height="11" class="c"/><text class="p" x="743.9" y="636.5">54</text>
</g>

<text x="791" y="692" text-anchor="end" style="font-size:11px;font-weight:normal">EN-09863</text>
</svg>
</body></html>
